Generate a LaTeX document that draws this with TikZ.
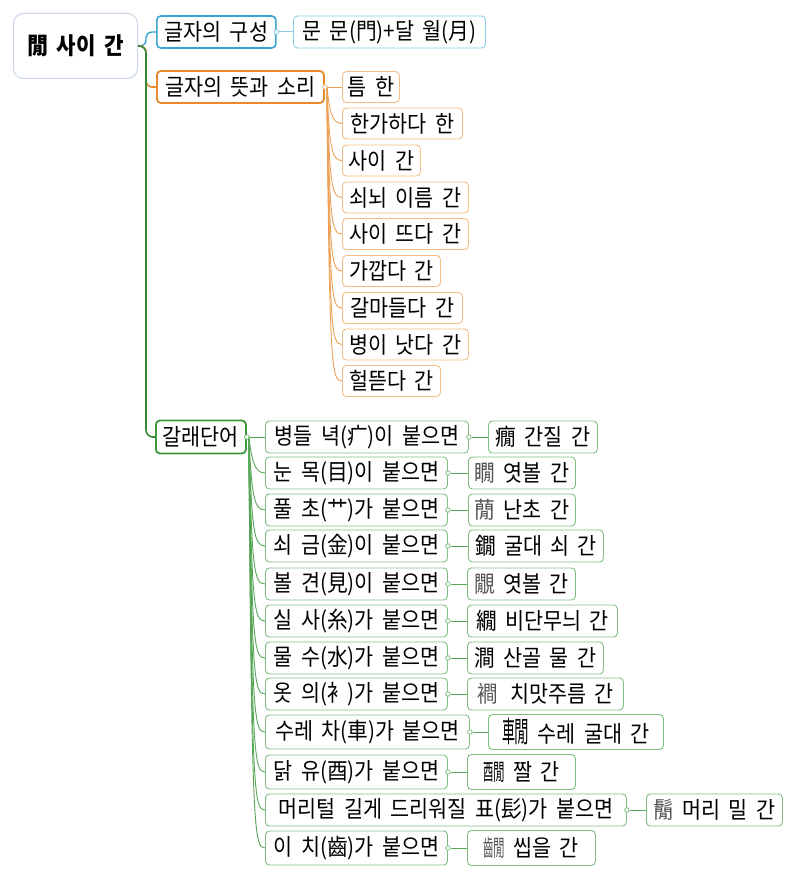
\documentclass[tikz,border=0pt]{standalone}
\usepackage{fontspec}
\usepackage{graphicx}
\setmainfont[FakeStretch=0.9,WordSpace=1.8]{Noto Sans CJK KR}
\usetikzlibrary{calc}
\definecolor{rootc}{HTML}{C9D7E6}
\definecolor{bluem}{HTML}{3DA5D2}
\definecolor{bluel}{HTML}{8FCDE6}
\definecolor{orm}{HTML}{E8892C}
\definecolor{orl}{HTML}{F2BF88}
\definecolor{grm}{HTML}{3C963C}
\definecolor{grl}{HTML}{80BE80}
\definecolor{hjgray}{HTML}{555555}
\newcommand{\hjcomp}[2]{\mbox{\scalebox{0.5}[1]{#1}\kern-0.03em\scalebox{0.56}[1]{#2}}}
\tikzset{
  bx/.style={draw, rounded corners=4pt, anchor=west, minimum height=32pt,
    inner xsep=3pt, inner ysep=0pt, align=center, text=black,
    font=\fontsize{23}{24}\selectfont, line width=0.9pt},
  rootbox/.style={bx, draw=rootc, rounded corners=10pt, line width=1pt,
    font=\fontsize{23.5}{24}\selectfont\bfseries},
  bmain/.style={bx, draw=bluem, line width=1.6pt},
  bleaf/.style={bx, draw=bluel},
  omain/.style={bx, draw=orm, line width=1.8pt},
  oleaf/.style={bx, draw=orl},
  gmain/.style={bx, draw=grm, line width=1.8pt},
  gleaf/.style={bx, draw=grl},
  dotb/.style={circle, draw=bluel, fill=white, inner sep=0pt, minimum size=4.5pt, line width=0.8pt},
  doto/.style={circle, draw=orl, fill=white, inner sep=0pt, minimum size=4.5pt, line width=0.8pt},
  dotg/.style={circle, draw=grl, fill=white, inner sep=0pt, minimum size=4.5pt, line width=0.8pt},
  bline/.style={draw=bluel, line width=1pt},
  oline/.style={draw=orm!80, line width=0.9pt},
  gline/.style={draw=grm!85, line width=0.9pt}
}
\begin{document}
\begin{tikzpicture}[x=1pt,y=-1pt]
\useasboundingbox[fill=white] (0,0) rectangle (800,877);

% root
\node[rootbox, minimum width=124pt, minimum height=65pt] (root) at (13,46) {閒 사이 간};

% main branches
\node[bmain, minimum width=119pt] (b1) at (156,32) {글자의 구성};
\node[omain, minimum width=167pt] (o0) at (156,87) {글자의 뜻과 소리};
\node[gmain, minimum width=90pt, minimum height=33pt] (g0) at (155,437) {갈래단어};

% trunk connectors
\draw[draw=bluem, line width=1.4pt, rounded corners=6pt] (root.east) -- (146,46) -- (146,32) -- (b1.west);
\draw[draw=orm, line width=1.6pt, rounded corners=6pt] (root.east) -- (146,46) -- (146,87) -- (o0.west);
\draw[draw=grm!90!black, line width=1.6pt, rounded corners=7pt] (root.east) -- (146,46) -- (146,437) -- (g0.west);

% blue leaf
\node[bleaf, minimum width=192pt] (b1a) at (293,32) {문 문(門)+달 월(月)};
\node[dotb] (db) at (b1.east) {};
\draw[bline] (db) -- (b1a.west);

% orange leaves
\node[oleaf, minimum width=57pt, minimum height=31pt] (o1) at (342,87) {틈 한};
\node[oleaf, minimum width=120pt, minimum height=31pt] (o2) at (342,123.5) {한가하다 한};
\node[oleaf, minimum width=78pt, minimum height=31pt] (o3) at (342,160.5) {사이 간};
\node[oleaf, minimum width=126pt, minimum height=31pt] (o4) at (342,197.5) {쇠뇌 이름 간};
\node[oleaf, minimum width=126pt, minimum height=31pt] (o5) at (342,234) {사이 뜨다 간};
\node[oleaf, minimum width=98pt, minimum height=31pt] (o6) at (342,271) {가깝다 간};
\node[oleaf, minimum width=120pt, minimum height=31pt] (o7) at (342,308) {갈마들다 간};
\node[oleaf, minimum width=126pt, minimum height=31pt] (o8) at (342,344.5) {병이 낫다 간};
\node[oleaf, minimum width=98pt, minimum height=31pt] (o9) at (342,381) {헐뜯다 간};

\coordinate (oc) at ($(o0.east)+(2,0)$);
\draw[oline] (oc) -- (o1.west);
\foreach \i in {2,...,9}{
  \draw[oline] (oc) .. controls ($(oc |- o\i.west)+(3,-14)$) and ($(o\i.west)+(-11,0)$) .. (o\i.west);
}
\node[doto] at (o0.east) {};

% green children
\node[gleaf, minimum width=203pt] (g1) at (265,437) {병들 녁(疒)이 붙으면};
\node[gleaf, minimum width=182pt] (g2) at (265,473) {눈 목(目)이 붙으면};
\node[gleaf, minimum width=182pt] (g3) at (265,510) {풀 초(艹)가 붙으면};
\node[gleaf, minimum width=182pt] (g4) at (265,546) {쇠 금(金)이 붙으면};
\node[gleaf, minimum width=182pt] (g5) at (265,584) {볼 견(見)이 붙으면};
\node[gleaf, minimum width=182pt] (g6) at (265,621) {실 사(糸)가 붙으면};
\node[gleaf, minimum width=182pt] (g7) at (265,658) {물 수(水)가 붙으면};
\node[gleaf, minimum width=182pt] (g8) at (265,694) {옷 의(衤)가 붙으면};
\node[gleaf, minimum width=204pt, minimum height=34pt] (g9) at (265,732) {수레 차(車)가 붙으면};
\node[gleaf, minimum width=182pt, minimum height=34pt] (g10) at (265,772) {닭 유(酉)가 붙으면};
\node[gleaf, minimum width=361pt] (g11) at (265,810) {머리털 길게 드리워질 표(髟)가 붙으면};
\node[gleaf, minimum width=182pt, minimum height=34pt] (g12) at (265,848) {이 치(齒)가 붙으면};

\coordinate (gc) at ($(g0.east)+(2,0)$);
\draw[gline] (gc) -- (g1.west);
\foreach \i in {2,...,12}{
  \draw[gline] (gc) .. controls ($(gc |- g\i.west)+(3,-14)$) and ($(g\i.west)+(-11,0)$) .. (g\i.west);
}
\node[dotg] at (g0.east) {};

% green leaves
\node[gleaf, minimum width=109pt] (l1) at (488,437) {癇 간질 간};
\node[gleaf, minimum width=107pt] (l2) at (468,473) {{\color{hjgray}瞯} 엿볼 간};
\node[gleaf, minimum width=107pt] (l3) at (468,510) {{\color{hjgray}蕑} 난초 간};
\node[gleaf, minimum width=135pt] (l4) at (468,546) {鐗 굴대 쇠 간};
\node[gleaf, minimum width=108pt] (l5) at (467,584) {{\color{hjgray}覵} 엿볼 간};
\node[gleaf, minimum width=150pt] (l6) at (467,621) {繝 비단무늬 간};
\node[gleaf, minimum width=136pt] (l7) at (467,658) {澗 산골 물 간};
\node[gleaf, minimum width=156pt] (l8) at (467,694) {{\color{hjgray}襇} \hspace{4pt}치맛주름 간};
\node[gleaf, minimum width=175pt, minimum height=35pt] (l9) at (488,732) {{\fontsize{29}{29}\selectfont\hjcomp{車}{閒}} 수레 굴대 간};
\node[gleaf, minimum width=108pt, minimum height=35pt] (l10) at (467,772) {\hjcomp{酉}{閒} 짤 간};
\node[gleaf, minimum width=136pt] (l11) at (646,810) {{\color{hjgray}鬜} 머리 밀 간};
\node[gleaf, minimum width=128pt, minimum height=35pt] (l12) at (467,848) {{\color{hjgray}\hjcomp{齒}{閒}} 씹을 간};

\foreach \i in {1,...,12}{
  \node[dotg] (d\i) at (g\i.east) {};
  \draw[gline] (d\i) -- (l\i.west);
}
\end{tikzpicture}
\end{document}
